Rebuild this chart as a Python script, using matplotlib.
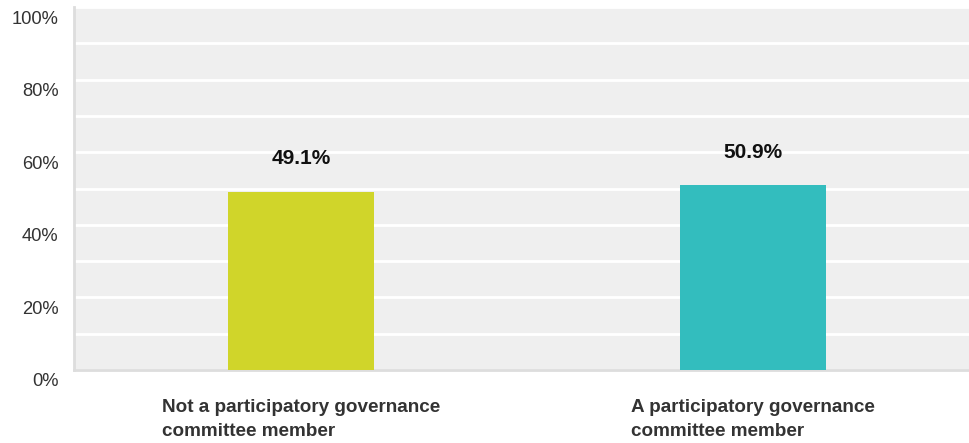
import matplotlib.pyplot as plt
from matplotlib.transforms import ScaledTranslation

categories = ["Not a participatory governance\ncommittee member",
              "A participatory governance\ncommittee member"]
values = [49.1, 50.9]
colors = ["#d0d52a", "#33bdbe"]
yticks = [0, 20, 40, 60, 80, 100]

plt.rcParams['font.family'] = ['Liberation Sans', 'DejaVu Sans']

fig = plt.figure(figsize=(9.69, 4.43), dpi=100)
ax = fig.add_axes([74/969, 1-370/443, 895/969, 363/443])
ax.set_facecolor("#efefef")

pos = [0, 1]
ax.bar(pos, values, width=0.323, color=colors, zorder=3)
for p, v in zip(pos, values):
    ax.annotate(f"{v:.1f}%", (p, v), xytext=(0, 17), textcoords="offset points",
                ha="center", va="bottom", fontsize=15, fontweight="bold", color="#111111")

ax.set_xlim(-0.502, 1.478)
ax.set_ylim(0, 100)
ax.set_yticks(yticks)
ax.set_yticklabels([f"{t}%" for t in yticks], fontsize=13.2, color="#333333")
ax.set_yticks(range(0, 101, 10), minor=True)
ax.grid(axis="y", which="both", color="white", linewidth=2, zorder=1)
ax.tick_params(axis="y", which="both", length=0, pad=11)
for lab in ax.get_yticklabels():
    lab.set_transform(lab.get_transform() + ScaledTranslation(0, -10/100, fig.dpi_scale_trans))

ax.set_xticks(pos)
ax.set_xticklabels(categories, fontsize=13.6, fontweight="bold", color="#333333",
                   multialignment="left", linespacing=1.5)
ax.tick_params(axis="x", length=0, pad=21)

for s in ["top", "right"]:
    ax.spines[s].set_visible(False)
ax.spines["left"].set_color("#dddddd")
ax.spines["bottom"].set_color("#dddddd")
ax.spines["left"].set_linewidth(2)
ax.spines["bottom"].set_linewidth(2)

fig.savefig("out.png", dpi=100)
